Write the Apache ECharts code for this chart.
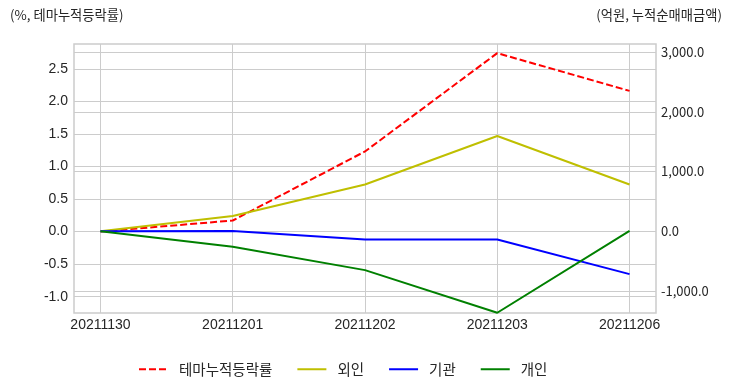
<!DOCTYPE html>
<html>
<head>
<meta charset="utf-8">
<script src="https://cdn.jsdelivr.net/npm/echarts@6/dist/echarts.min.js"></script>
<style>html,body{margin:0;padding:0;background:#fff}#c{width:732px;height:392px}</style>
</head>
<body>
<div id="c"></div>
<script>
const dates = ['20211130', '20211201', '20211202', '20211203', '20211206'];
const themeRate = [0, 0.17, 1.23, 2.74, 2.16];
const foreign = [0, 256, 781, 1594, 781];
const institution = [0, 5, -139, -139, -719];
const individual = [0, -262, -652, -1366, 5];
const leftTicks = [-1, -0.5, 0, 0.5, 1, 1.5, 2, 2.5];
const rightTicks = [-1000, 0, 1000, 2000, 3000];
const seriesNames = ['테마누적등락률', '외인', '기관', '개인'];

const pts = arr => arr.map((v, i) => [i, v]);
const fmtRight = v => v.toLocaleString('en-US', {minimumFractionDigits: 1, maximumFractionDigits: 1});
const numFont = 'Liberation Sans, Arial, sans-serif';
const krFont = 'Noto Sans CJK KR, sans-serif';
const grid = '#cccccc';

const chart = echarts.init(document.getElementById('c'), null, {renderer: 'canvas'});
chart.setOption({
  animation: false,
  backgroundColor: '#fff',
  grid: {left: 74, right: 76, top: 44, bottom: 79, show: true, borderColor: grid, borderWidth: 1.5, containLabel: false},
  xAxis: {
    type: 'value', min: -0.2, max: 4.2,
    axisLine: {show: false},
    axisTick: {show: false, customValues: dates.map((d, i) => i)},
    axisLabel: {customValues: dates.map((d, i) => i), formatter: v => dates[Math.round(v)], color: '#262626', fontFamily: numFont, fontSize: 14, margin: 5},
    splitLine: {show: true, lineStyle: {color: grid, width: 1}}
  },
  yAxis: [
    {
      type: 'value', min: -1.25, max: 2.88,
      axisLine: {show: false}, axisTick: {show: false, customValues: leftTicks},
      axisLabel: {customValues: leftTicks, formatter: v => v.toFixed(1), color: '#262626', fontFamily: numFont, fontSize: 14, margin: 6},
      splitLine: {show: true, lineStyle: {color: grid, width: 1}}
    },
    {
      type: 'value', min: -1370, max: 3135, position: 'right',
      axisLine: {show: false}, axisTick: {show: false, customValues: rightTicks},
      axisLabel: {customValues: rightTicks, formatter: fmtRight, color: '#262626', fontFamily: krFont, fontSize: 13, margin: 5},
      splitLine: {show: true, lineStyle: {color: grid, width: 1}}
    }
  ],
  legend: {
    left: 138, top: 362, padding: 0, itemWidth: 29, itemHeight: 14, itemGap: 24,
    itemStyle: {opacity: 0},
    textStyle: {fontFamily: krFont, fontSize: 14.5, color: '#262626', padding: [0, 0, 0, 6]},
    data: seriesNames
  },
  graphic: [
    {type: 'text', left: 10, top: 8, style: {text: '(%, 테마누적등락률)', font: '13.3px "Noto Sans CJK KR"', fill: '#262626'}},
    {type: 'text', right: 10, top: 8, style: {text: '(억원, 누적순매매금액)', font: '13.3px "Noto Sans CJK KR"', fill: '#262626'}}
  ],
  series: [
    {name: seriesNames[0], type: 'line', yAxisIndex: 0, data: pts(themeRate), symbol: 'none', z: 2,
     lineStyle: {color: '#ff0000', width: 2, type: [7, 3]}, itemStyle: {color: '#ff0000'}},
    {name: seriesNames[1], type: 'line', yAxisIndex: 1, data: pts(foreign), symbol: 'none', z: 3,
     lineStyle: {color: '#bfbf00', width: 2}, itemStyle: {color: '#bfbf00'}},
    {name: seriesNames[2], type: 'line', yAxisIndex: 1, data: pts(institution), symbol: 'none', z: 4,
     lineStyle: {color: '#0000ff', width: 2}, itemStyle: {color: '#0000ff'}},
    {name: seriesNames[3], type: 'line', yAxisIndex: 1, data: pts(individual), symbol: 'none', z: 5,
     lineStyle: {color: '#008000', width: 2}, itemStyle: {color: '#008000'}}
  ]
});
</script>
</body>
</html>
